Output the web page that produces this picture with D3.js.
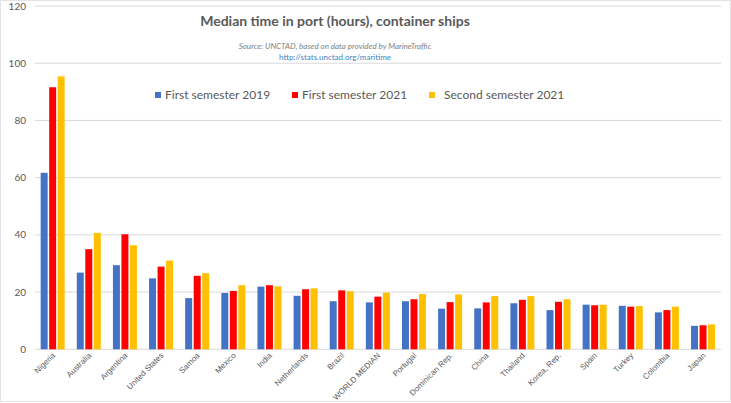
<!DOCTYPE html>
<html>
<head>
<meta charset="utf-8">
<script src="https://cdn.jsdelivr.net/npm/d3@7"></script>
<style>
  body { margin: 0; background: #fff; }
  svg { display: block; }
</style>
</head>
<body>
<svg id="chart"></svg>
<script>
const countries = ['Nigeria', 'Australia', 'Argentina', 'United States', 'Samoa', 'Mexico', 'India',
    'Netherlands', 'Brazil', 'WORLD MEDIAN', 'Portugal', 'Dominican Rep.', 'China', 'Thailand',
    'Korea, Rep.', 'Spain', 'Turkey', 'Colombia', 'Japan']
const series = ['First semester 2019', 'First semester 2021', 'Second semester 2021']
const sem1_2019 = [61.7, 26.8, 29.4, 24.8, 17.9, 19.7, 21.9, 18.7, 16.8, 16.4, 16.8, 14.2, 14.3, 16.1, 13.7, 15.6, 15.2, 12.9, 8.2]
const sem1_2021 = [91.6, 35.0, 40.2, 28.9, 25.7, 20.4, 22.4, 21.0, 20.6, 18.4, 17.5, 16.5, 16.4, 17.3, 16.6, 15.4, 14.9, 13.7, 8.4]
const sem2_2021 = [95.4, 40.7, 36.4, 31.0, 26.6, 22.4, 22.0, 21.3, 20.3, 19.8, 19.3, 19.2, 18.6, 18.6, 17.5, 15.6, 15.1, 14.9, 8.7]
const yTicks = [0, 20, 40, 60, 80, 100, 120]

const colors = ['#4472c4', '#ff0000', '#ffc000']
const values = [sem1_2019, sem1_2021, sem2_2021]

const W = 731, H = 403
const svg = d3.select('#chart').attr('width', W).attr('height', H)

svg.append('rect')
    .attr('x', 0.5).attr('y', 0.5)
    .attr('width', W - 1).attr('height', H - 2)
    .attr('fill', '#fff')
    .attr('stroke', '#e3e3e3')

let x0 = d3.scaleBand().domain(countries).range([34.6, 721.1])
let x1 = d3.scaleBand().domain(series)
    .range([x0.bandwidth() / 2 - 12, x0.bandwidth() / 2 + 12])
    .paddingInner(0.18)
let y = d3.scaleLinear().domain([0, 120]).range([349.3, 6])

// gridlines
svg.append('g')
    .selectAll('line')
    .data(yTicks)
    .join('line')
    .attr('x1', 35).attr('x2', 721)
    .attr('y1', d => y(d)).attr('y2', d => y(d))
    .attr('stroke', '#d9d9d9')
    .attr('stroke-width', 1)

// y labels
svg.append('g')
    .selectAll('text')
    .data(yTicks)
    .join('text')
    .attr('x', 26)
    .attr('y', d => y(d))
    .attr('dy', '0.35em')
    .attr('text-anchor', 'end')
    .attr('font-family', 'Lato, "Open Sans", sans-serif')
    .attr('font-size', 10)
    .attr('fill', '#595959')
    .text(d => d)

// bars
let rows = countries.map((c, i) => ({ country: c, vals: series.map((s, k) => ({ s: s, k: k, v: values[k][i] })) }))
svg.append('g')
    .selectAll('g')
    .data(rows)
    .join('g')
    .attr('transform', d => `translate(${x0(d.country)},0)`)
    .selectAll('rect')
    .data(d => d.vals)
    .join('rect')
    .attr('x', d => x1(d.s))
    .attr('width', x1.bandwidth())
    .attr('y', d => y(d.v))
    .attr('height', d => y(0) - y(d.v))
    .attr('fill', d => colors[d.k])

// x labels
svg.append('g')
    .selectAll('text')
    .data(countries)
    .join('text')
    .attr('transform', d => `translate(${x0(d) + x0.bandwidth() / 2 + 3},356) rotate(-45)`)
    .attr('text-anchor', 'end')
    .attr('font-family', '"Liberation Sans", Arial, sans-serif')
    .attr('font-size', 8)
    .attr('fill', '#595959')
    .text(d => d)

// titles
svg.append('text')
    .attr('x', 335).attr('y', 26)
    .attr('text-anchor', 'middle')
    .attr('font-family', 'Lato, "Open Sans", sans-serif')
    .attr('font-weight', 'bold')
    .attr('font-size', 14)
    .attr('fill', '#595959')
    .text('Median time in port (hours), container ships')

svg.append('text')
    .attr('x', 335).attr('y', 49)
    .attr('text-anchor', 'middle')
    .attr('font-family', 'Lato, "Open Sans", sans-serif')
    .attr('font-style', 'italic')
    .attr('font-size', 8)
    .attr('fill', '#7f7f7f')
    .text('Source: UNCTAD, based on data provided by MarineTraffic')

svg.append('text')
    .attr('x', 335).attr('y', 60)
    .attr('text-anchor', 'middle')
    .attr('font-family', 'Lato, "Open Sans", sans-serif')
    .attr('font-size', 8)
    .attr('fill', '#3a86c8')
    .text('http://stats.unctad.org/maritime')

// legend
const legendX = [155, 292, 429]
const legendTextX = [165, 302, 444]
let lg = svg.append('g')
lg.selectAll('rect')
    .data(series)
    .join('rect')
    .attr('x', (d, i) => legendX[i])
    .attr('y', 92)
    .attr('width', 6).attr('height', 6)
    .attr('fill', (d, i) => colors[i])
lg.selectAll('text')
    .data(series)
    .join('text')
    .attr('x', (d, i) => legendTextX[i])
    .attr('y', 95)
    .attr('dy', '0.35em')
    .attr('font-family', 'Lato, "Open Sans", sans-serif')
    .attr('font-size', 12)
    .attr('fill', '#595959')
    .text(d => d)
</script>
</body>
</html>
